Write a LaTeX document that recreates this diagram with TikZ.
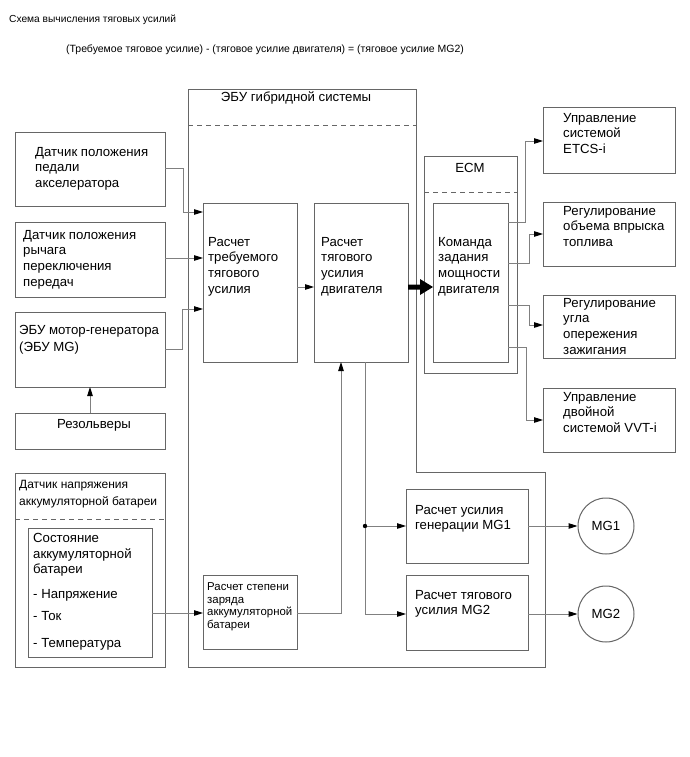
\documentclass[tikz,border=0pt]{standalone}
\usepackage{fontspec}
\setmainfont{Liberation Sans}
\usetikzlibrary{arrows.meta,calc}
\begin{document}
\begin{tikzpicture}[x=1pt,y=-1pt,
 box/.style={draw=black!60,line width=1pt,anchor=north west,inner sep=0pt,outer sep=0pt},
 txt/.style={anchor=north west,inner sep=0pt,align=left,font=\fontsize{13.2}{15.7}\selectfont},
 ctxt/.style={inner sep=0pt,font=\fontsize{13.2}{15.7}\selectfont},
 conn/.style={draw=black!50,line width=1pt},
 arr/.style={conn,-{Triangle[length=9pt,width=5.5pt,color=black]}},
 dsh/.style={draw=black!60,line width=0.9pt,dash pattern=on 5pt off 4pt},
 mgc/.style={circle,draw=black!60,line width=1pt,minimum size=56pt,inner sep=0pt,font=\fontsize{13.2}{15.7}\selectfont}]
\useasboundingbox[fill=white] (0,0) rectangle (689,757);

% titles
\node[anchor=west,inner sep=0pt,font=\fontsize{10.2}{12}\selectfont] (title) at (9,20) {Схема вычисления тяговых усилий};
\node[inner sep=0pt,font=\fontsize{10.5}{12}\selectfont] (formula) at (265,50) {(Требуемое тяговое усилие) - (тяговое усилие двигателя) = (тяговое усилие MG2)};

% hybrid ECU outline
\draw[draw=black!60,line width=1pt] (188,90) -- (416,90) -- (416,472) -- (545,472) -- (545,667) -- (188,667) -- cycle;
\draw[dsh] (188,125) -- (416,125);
\node[ctxt] (thyb) at (296,98) {ЭБУ гибридной системы};

% ECM
\node[box,minimum width=93pt,minimum height=217pt] (ecm) at (424,156) {};
\draw[dsh] (424,192) -- (517,192);
\node[ctxt] (tecm) at (470,168) {ECM};

% left boxes
\node[box,minimum width=150pt,minimum height=74pt] (b1) at (15,132) {};
\node[txt] (t1) at (35,147) {Датчик положения\\педали\\акселератора};
\node[box,minimum width=150pt,minimum height=75pt] (b2) at (15,222) {};
\node[txt] (t2) at (23,230) {Датчик положения\\рычага\\переключения\\передач};
\node[box,minimum width=150pt,minimum height=75pt] (mgecu) at (15,312) {};
\node[txt] (tmg) at (19,325) {ЭБУ мотор-генератора\\[1pt](ЭБУ MG)};
\node[box,minimum width=150pt,minimum height=36pt] (res) at (15,413) {};
\node[ctxt] (tres) at (94,425) {Резольверы};

% battery
\node[box,minimum width=150pt,minimum height=194pt] (bat) at (15,473) {};
\draw[dsh] (15,519) -- (165,519);
\node[anchor=north west,inner sep=0pt,align=left,font=\fontsize{12}{16.7}\selectfont] (tbat) at (19,480.5) {Датчик напряжения\\аккумуляторной батареи};
\node[box,minimum width=124pt,minimum height=129pt] (state) at (28,528) {};
\node[txt] (tstate) at (33,533) {Состояние\\аккумуляторной\\батареи\\[8.5pt]- Напряжение\\[6.5pt]- Ток\\[11.5pt]- Температура};

% central boxes
\node[box,minimum width=94pt,minimum height=159pt] (b3) at (203,203) {};
\node[txt] (tb3) at (208,237) {Расчет\\требуемого\\тягового\\усилия};
\node[box,minimum width=94pt,minimum height=159pt] (b4) at (314,203) {};
\node[txt] (tb4) at (321,237) {Расчет\\тягового\\усилия\\двигателя};
\node[box,minimum width=75pt,minimum height=159pt] (cmd) at (433,203) {};
\node[txt] (tcmd) at (438,237) {Команда\\задания\\мощности\\двигателя};
\node[box,minimum width=94pt,minimum height=74pt] (soc) at (203,575) {};
\node[anchor=north west,inner sep=0pt,align=left,font=\fontsize{11.4}{12.7}\selectfont] (tsoc) at (207,582.5) {Расчет степени\\заряда\\аккумуляторной\\батареи};

% right boxes
\node[box,minimum width=132pt,minimum height=65pt] (r1) at (543,108) {};
\node[txt] (tr1) at (563,113) {Управление\\системой\\ETCS-i};
\node[box,minimum width=132pt,minimum height=64pt] (r2) at (543,202) {};
\node[txt] (tr2) at (563,206) {Регулирование\\объема впрыска\\топлива};
\node[box,minimum width=132pt,minimum height=63pt] (r3) at (543,295) {};
\node[txt] (tr3) at (563,298) {Регулирование\\угла\\опережения\\зажигания};
\node[box,minimum width=132pt,minimum height=64pt] (r4) at (543,388) {};
\node[txt] (tr4) at (563,392) {Управление\\двойной\\системой VVT-i};

% MG boxes
\node[box,minimum width=122pt,minimum height=74pt] (mg1c) at (406,489) {};
\node[anchor=north west,inner sep=0pt,align=left,font=\fontsize{13.2}{15}\selectfont] (tmg1c) at (415,505) {Расчет усилия\\генерации MG1};
\node[box,minimum width=122pt,minimum height=75pt] (mg2c) at (406,575) {};
\node[anchor=north west,inner sep=0pt,align=left,font=\fontsize{13.2}{15}\selectfont] (tmg2c) at (415,590) {Расчет тягового\\усилия MG2};
\node[mgc] (mg1) at (606,526) {MG1};
\node[mgc] (mg2) at (606,614) {MG2};

% connectors
\draw[arr] (b1.east |- 0,168) -- (183,168) -- (183,212) -- (b3.west |- 0,212);
\draw[arr] (b2.east |- 0,258) -- (b3.west |- 0,258);
\draw[arr] (mgecu.east |- 0,349) -- (182,349) -- (182,309) -- (b3.west |- 0,309);
\draw[arr] (res.north -| 90,0) -- (mgecu.south -| 90,0);
\draw[arr] (b3.east |- 0,287) -- (b4.west |- 0,287);
% thick arrow
\fill[black] (b4.east |- 0,284.5) -- (420,284.5) -- (420,279) -- (cmd.west |- 0,287) -- (420,295) -- (420,289.5) -- (b4.east |- 0,289.5) -- cycle;

\draw[arr] (cmd.east |- 0,222) -- (525,222) -- (525,141) -- (r1.west |- 0,141);
\draw[arr] (cmd.east |- 0,263) -- (529,263) -- (529,234) -- (r2.west |- 0,234);
\draw[arr] (cmd.east |- 0,305) -- (529,305) -- (529,325) -- (r3.west |- 0,325);
\draw[arr] (cmd.east |- 0,347) -- (526,347) -- (526,420) -- (r4.west |- 0,420);

\draw[arr] (state.east |- 0,613) -- (soc.west |- 0,613);
\draw[arr] (soc.east |- 0,613) -- (341,613) -- (b4.south -| 341,0);

\coordinate (jn) at (365,526);
\draw[conn] (b4.south -| 365,0) -- (jn);
\draw[arr] (jn) -- (365,614) -- (mg2c.west |- 0,614);
\draw[arr] (jn) -- (mg1c.west |- jn);
\fill[black] (jn) circle (2.2pt);
\draw[arr] (mg1c.east |- mg1.west) -- (mg1.west);
\draw[arr] (mg2c.east |- mg2.west) -- (mg2.west);
\end{tikzpicture}
\end{document}
